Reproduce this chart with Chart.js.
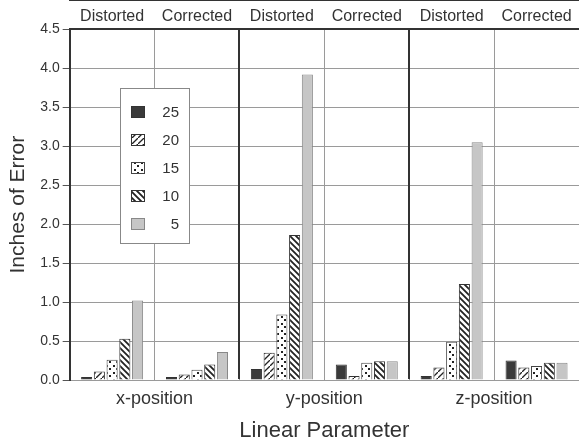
<!DOCTYPE html>
<html>
<head>
<meta charset="utf-8">
<script src="https://cdn.jsdelivr.net/npm/chart.js@4.4.1/dist/chart.umd.min.js"></script>
<style>
  html, body { margin: 0; padding: 0; background: #fff; }
  #wrap { width: 579px; height: 448px; }
</style>
</head>
<body>
<div id="wrap"><canvas id="chart" width="579" height="448"></canvas></div>
<script>
// categories: top labels and bottom group labels
var conditions = ['Distorted', 'Corrected', 'Distorted', 'Corrected', 'Distorted', 'Corrected'];
var positions = ['x-position', 'y-position', 'z-position'];
var seriesNames = ['25', '20', '15', '10', '5'];

// values (inches of error)
var s25 = [0.04, 0.04, 0.14, 0.20, 0.05, 0.25];
var s20 = [0.11, 0.07, 0.35, 0.05, 0.16, 0.16];
var s15 = [0.26, 0.13, 0.84, 0.22, 0.49, 0.18];
var s10 = [0.53, 0.20, 1.86, 0.24, 1.23, 0.22];
var s5  = [1.02, 0.36, 3.92, 0.24, 3.05, 0.22];

var yTicks = [0, 0.5, 1, 1.5, 2, 2.5, 3, 3.5, 4, 4.5];

var FONT = "'Liberation Sans', Arial, sans-serif";
var TXT = '#333';

function makePattern(kind) {
    var c = document.createElement('canvas');
    var n = kind == 'dots' ? 7 : 6;
    c.width = n; c.height = n;
    var g = c.getContext('2d');
    g.fillStyle = '#fff';
    g.fillRect(0, 0, n, n);
    g.strokeStyle = '#222';
    g.fillStyle = '#222';
    if (kind == 'fwd') {
        // sparse "/" dashes
        g.lineWidth = 1.3;
        g.beginPath();
        g.moveTo(0, n); g.lineTo(n, 0);
        g.stroke();
    } else if (kind == 'back') {
        g.lineWidth = 1.8;
        g.beginPath();
        g.moveTo(0, 0); g.lineTo(n, n);
        g.moveTo(-1, n - 1); g.lineTo(1, n + 1);
        g.moveTo(n - 1, -1); g.lineTo(n + 1, 1);
        g.stroke();
    } else if (kind == 'dots') {
        g.fillRect(1, 1, 2, 2);
        g.fillRect(4, 4, 2, 2);
    }
    return g.createPattern(c, 'repeat');
}

var fills = ['#3a3a3a', makePattern('fwd'), makePattern('dots'), makePattern('back'), '#c6c6c6'];
var borders = ['#333', '#333', '#444', '#333', '#888'];
var allSeries = [s25, s20, s15, s10, s5];

var datasets = [];
for (var i = 0; i < allSeries.length; i++) {
    datasets.push({
        label: seriesNames[i],
        data: allSeries[i],
        backgroundColor: fills[i],
        borderColor: borders[i],
        borderWidth: 1,
        categoryPercentage: 0.75,
        barPercentage: 0.87,
        xAxisID: 'x'
    });
}

// legend box drawn inside the plot, like the original figure
var boxLegend = {
    id: 'boxLegend',
    afterDraw: function (chart) {
        var ctx = chart.ctx;
        var x0 = 120, y0 = 88, w = 69, h = 155;
        ctx.save();
        ctx.fillStyle = '#fff';
        ctx.fillRect(x0, y0, w, h);
        ctx.strokeStyle = '#888';
        ctx.lineWidth = 1;
        ctx.strokeRect(x0 + 0.5, y0 + 0.5, w, h);
        ctx.font = '15px ' + FONT;
        ctx.textAlign = 'right';
        ctx.textBaseline = 'middle';
        chart.data.datasets.forEach(function (ds, k) {
            var cy = 112 + k * 28;
            ctx.fillStyle = ds.backgroundColor;
            ctx.fillRect(131, cy - 6, 14, 12);
            ctx.strokeStyle = ds.borderColor;
            ctx.strokeRect(131.5, cy - 5.5, 13, 11);
            ctx.fillStyle = TXT;
            ctx.fillText(ds.label, 179, cy + 1);
        });
        ctx.restore();
    }
};

function edgeHidden(col) {
    return function (c) { return c.type === 'tick' ? col : 'rgba(0,0,0,0)'; };
}

new Chart(document.getElementById('chart'), {
    type: 'bar',
    data: { labels: conditions, datasets: datasets },
    options: {
        responsive: false,
        animation: false,
        layout: { padding: { top: 4, right: 0, left: 6, bottom: 4 } },
        plugins: {
            legend: { display: false },
            tooltip: { enabled: false }
        },
        scales: {
            x: {
                position: 'top',
                offset: true,
                grid: { offset: true, color: edgeHidden('#9a9a9a'), lineWidth: 1, drawTicks: false },
                border: { color: '#333', width: 2 },
                ticks: {
                    color: TXT, font: { family: FONT, size: 16 },
                    autoSkip: false, maxRotation: 0, padding: 3
                }
            },
            x2: {
                type: 'category',
                position: 'bottom',
                labels: positions,
                offset: true,
                grid: { offset: true, color: edgeHidden('#333'), lineWidth: 2, drawTicks: false, z: 1 },
                border: { color: '#333', width: 2 },
                ticks: { color: TXT, font: { family: FONT, size: 18 }, padding: 8, maxRotation: 0 },
                title: {
                    display: true, text: 'Linear Parameter', color: TXT,
                    font: { family: FONT, size: 22 }, padding: { top: 0, bottom: 0 }
                }
            },
            y: {
                min: 0, max: 4.5,
                afterBuildTicks: function (scale) {
                    scale.ticks = yTicks.map(function (v) { return { value: v }; });
                },
                grid: { color: '#9a9a9a', lineWidth: 1, drawTicks: true, tickLength: 7, tickColor: '#555' },
                border: { color: '#333', width: 2 },
                ticks: {
                    color: TXT, font: { family: FONT, size: 14 }, padding: 3,
                    callback: function (v) { return Number(v).toFixed(1); }
                },
                title: {
                    display: true, text: 'Inches of Error', color: TXT,
                    font: { family: FONT, size: 21 }, padding: { top: 0, bottom: 6 }
                }
            }
        }
    },
    plugins: [boxLegend]
});
</script>
</body>
</html>
